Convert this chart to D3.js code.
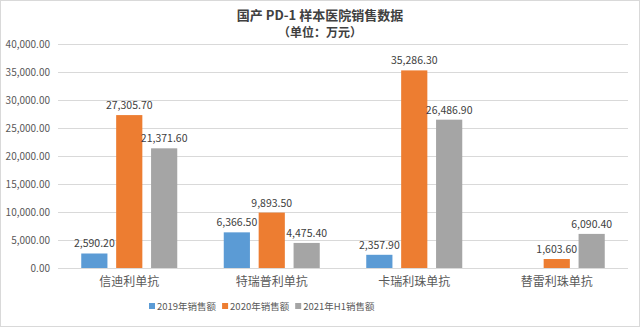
<!DOCTYPE html>
<html><head><meta charset="utf-8">
<script src="https://cdn.jsdelivr.net/npm/d3@7"></script>
<style>body{margin:0;background:#fff;} svg{display:block;}</style>
</head><body>
<script>
const categories = ["信迪利单抗", "特瑞普利单抗", "卡瑞利珠单抗", "替雷利珠单抗"];
const seriesNames = ["2019年销售额", "2020年销售额", "2021年H1销售额"];
const sales2019 = [2590.20, 6366.50, 2357.90, null];
const sales2020 = [27305.70, 9893.50, 35286.30, 1603.60];
const sales2021H1 = [21371.60, 4475.40, 26486.90, 6090.40];
const yTicks = [0, 5000, 10000, 15000, 20000, 25000, 30000, 35000, 40000];
const colors = ["#5B9BD5", "#ED7D31", "#A5A5A5"];
const allSeries = [sales2019, sales2020, sales2021H1];

(function () {
const W = 640, H = 327;
const font = "'Microsoft YaHei','Noto Sans CJK SC',sans-serif";
const svg = d3.select("body").append("svg").attr("width", W).attr("height", H);
svg.append("rect").attr("x", 0.5).attr("y", 0.5).attr("width", W - 1).attr("height", H - 1)
  .attr("fill", "#fff").attr("stroke", "#D9D9D9");

const mLeft = 58, mRight = 628, mTop = 44, mBottom = 268;
const x = d3.scaleBand().domain(categories).range([mLeft, mRight]);
const xs = d3.scaleBand().domain(d3.range(3)).range([0, 96]).paddingInner(0.25).paddingOuter(0);
const y = d3.scaleLinear().domain([0, 40000]).range([mBottom, mTop]);
const fmt = d3.format(",.2f");

svg.append("g").selectAll("line").data(yTicks).join("line")
  .attr("x1", mLeft).attr("x2", mRight)
  .attr("y1", d => Math.round(y(d)) + 0.5).attr("y2", d => Math.round(y(d)) + 0.5)
  .attr("stroke", "#D9D9D9").attr("stroke-width", 1);

const yAxis = d3.axisLeft(y).tickValues(yTicks).tickFormat(fmt).tickSize(0).tickPadding(8);
const gy = svg.append("g").attr("transform", `translate(${mLeft},0)`).call(yAxis);
gy.select(".domain").remove();
gy.selectAll("text").attr("fill", "#595959").style("font-family", font).style("font-size", "10px");

const xAxis = d3.axisBottom(x).tickSize(0).tickPadding(9);
const gx = svg.append("g").attr("transform", `translate(0,${mBottom})`).call(xAxis);
gx.select(".domain").remove();
gx.selectAll("text").attr("fill", "#595959").style("font-family", font).style("font-size", "12px");

allSeries.forEach((vals, si) => {
  const g = svg.append("g");
  const data = categories.map((c, i) => ({c, v: vals[i]})).filter(d => d.v != null);
  const bx = d => x(d.c) + x.bandwidth() / 2 - 48 + xs(si);
  g.selectAll("rect").data(data).join("rect")
    .attr("x", bx).attr("width", xs.bandwidth())
    .attr("y", d => y(d.v)).attr("height", d => mBottom - y(d.v))
    .attr("fill", colors[si]);
  g.selectAll("text").data(data).join("text")
    .attr("x", d => bx(d) + xs.bandwidth() / 2).attr("y", d => y(d.v) - 6)
    .attr("text-anchor", "middle").attr("fill", "#404040")
    .style("font-family", font).style("font-size", "10.5px")
    .text(d => fmt(d.v));
});

svg.append("text").attr("x", 320).attr("y", 20).attr("text-anchor", "middle")
  .attr("fill", "#404040").style("font-family", font).style("font-size", "13px").style("font-weight", "bold")
  .text("国产 PD-1 样本医院销售数据");
svg.append("text").attr("x", 320).attr("y", 37).attr("text-anchor", "middle")
  .attr("fill", "#404040").style("font-family", font).style("font-size", "12px").style("font-weight", "bold")
  .text("（单位：万元）");

const lg = svg.append("g");
let cx = 0;
seriesNames.forEach((n, i) => {
  lg.append("rect").attr("x", cx).attr("y", 303).attr("width", 6).attr("height", 6).attr("fill", colors[i]);
  const t = lg.append("text").attr("x", cx + 8).attr("y", 310).attr("fill", "#595959")
    .style("font-family", font).style("font-size", "9.5px").text(n);
  cx += 8 + t.node().getComputedTextLength() + 6;
});
lg.attr("transform", `translate(${Math.round(262 - (cx - 6) / 2)},0)`);
})();
</script>
</body></html>
